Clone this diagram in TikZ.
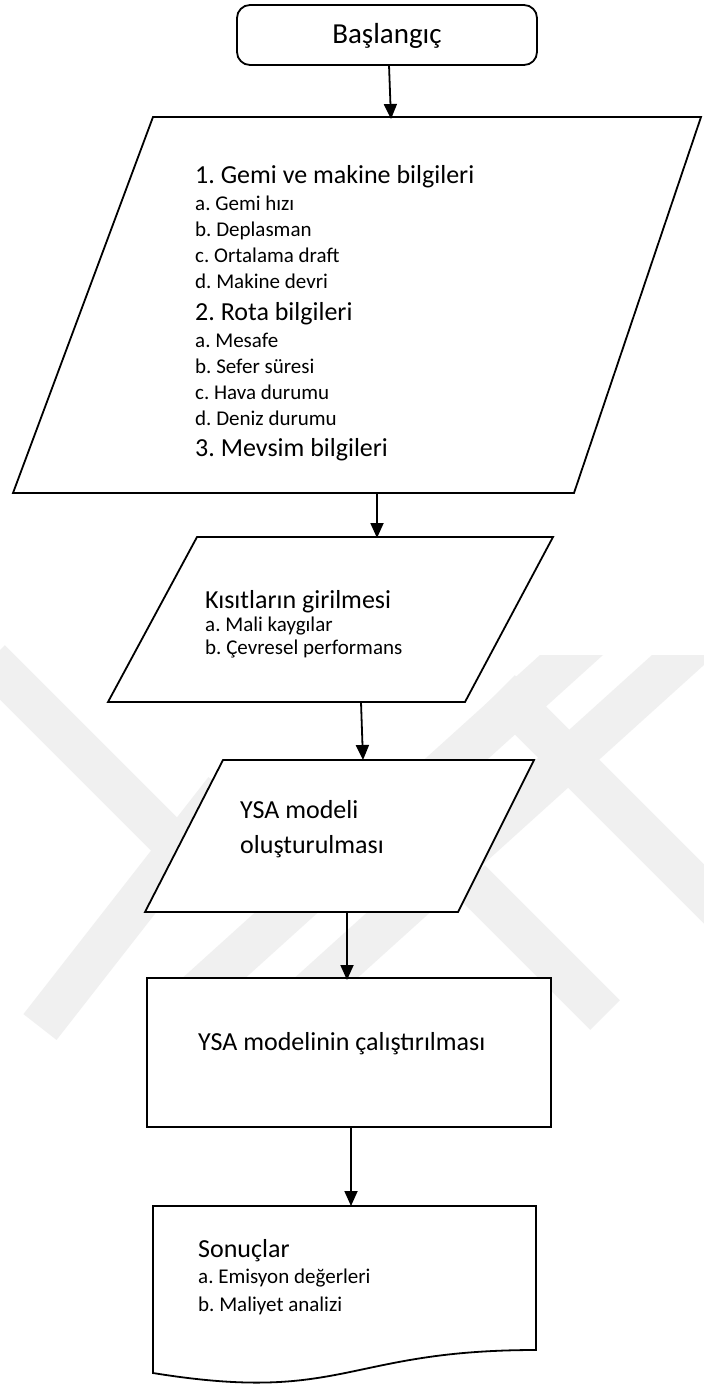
\documentclass[tikz,border=0pt]{standalone}
\usepackage{fontspec}
\setmainfont{Carlito}
\usetikzlibrary{arrows.meta}
\begin{document}
\frenchspacing
\begin{tikzpicture}[x=1pt,y=-1pt,
  shapeline/.style={draw=black, line width=1.8pt, fill=white, line join=miter},
  flow/.style={draw=black, line width=1.8pt, -{Triangle[length=15pt,width=13pt]}},
  mainitem/.style={anchor=base west, inner sep=0pt, font=\fontsize{26}{31}\selectfont},
  subitem/.style={anchor=base west, inner sep=0pt, font=\fontsize{21}{25}\selectfont},
  band/.style={draw=black!6, line width=42pt, line cap=butt},
  bandfill/.style={fill=black!6, draw=none}]

\useasboundingbox (0,0) rectangle (704,1385);
\fill[white] (0,0) rectangle (704,1385);

% faint background emblem
\fill[bandfill] (540,655) -- (603,655) -- (210,1010) -- (147,1010) -- cycle;
\fill[bandfill] (652,655) -- (715,655) -- (322,1010) -- (259,1010) -- cycle;
\draw[band] (500,690) -- (720,910);
\draw[band] (470,880) -- (605,1015);
\draw[band] (-10,660) -- (175,845);
\draw[band] (40,1027) -- (225,790);

% start
\node[draw, line width=1.8pt, rounded corners=13pt, minimum width=300pt,
      minimum height=60pt, inner sep=0pt, fill=white] (start) at (387,35) {};
\node[anchor=base, inner sep=0pt, font=\fontsize{29}{34}\selectfont] (starttxt) at (387,43) {Başlangıç};

% input: ship, route and season data
\draw[shapeline] (153,117) -- (701,117) -- (574,493) -- (13,493) -- cycle;
\node[mainitem] (g1) at (195,183) {1. Gemi ve makine bilgileri};
\node[subitem] (g1a) at (195,210) {a. Gemi hızı};
\node[subitem] (g1b) at (195,236) {b. Deplasman};
\node[subitem] (g1c) at (195,262) {c. Ortalama draft};
\node[subitem] (g1d) at (195,288) {d. Makine devri};
\node[mainitem] (g2) at (195,320) {2. Rota bilgileri};
\node[subitem] (g2a) at (195,347) {a. Mesafe};
\node[subitem] (g2b) at (195,373) {b. Sefer süresi};
\node[subitem] (g2c) at (195,399) {c. Hava durumu};
\node[subitem] (g2d) at (195,425) {d. Deniz durumu};
\node[mainitem] (g3) at (195,456) {3. Mevsim bilgileri};

% constraints
\draw[shapeline] (197,537) -- (553,537) -- (465,702) -- (108,702) -- cycle;
\node[mainitem] (k0) at (205,608) {Kısıtların girilmesi};
\node[subitem] (ka) at (205,631) {a. Mali kaygılar};
\node[subitem] (kb) at (205,654) {b. Çevresel performans};

% model building
\draw[shapeline] (223,760) -- (534,760) -- (458,912) -- (145,912) -- cycle;
\node[mainitem] (m1) at (240,818) {YSA modeli};
\node[mainitem] (m2) at (240,853) {oluşturulması};

% model run
\draw[shapeline] (147,978) rectangle (551,1127);
\node[mainitem] (run) at (198,1050) {YSA modelinin çalıştırılması};

% results document
\draw[shapeline] (153,1206) -- (536,1206) -- (536,1350)
  .. controls (344.5,1350) and (344.5,1404) .. (153,1373) -- cycle;
\node[mainitem] (r0) at (198,1257) {Sonuçlar};
\node[subitem] (ra) at (198,1283) {a. Emisyon değerleri};
\node[subitem] (rb) at (198,1311) {b. Maliyet analizi};

% connector end points
\coordinate (s1) at (389,65);   \coordinate (e1) at (391,119);
\coordinate (s2) at (377,493);  \coordinate (e2) at (377,538);
\coordinate (s3) at (361,702);  \coordinate (e3) at (363,760);
\coordinate (s4) at (347,912);  \coordinate (e4) at (347,980);
\coordinate (s5) at (351,1127); \coordinate (e5) at (351,1206);

\draw[flow] (s1) -- (e1);
\draw[flow] (s2) -- (e2);
\draw[flow] (s3) -- (e3);
\draw[flow] (s4) -- (e4);
\draw[flow] (s5) -- (e5);
\end{tikzpicture}
\end{document}
